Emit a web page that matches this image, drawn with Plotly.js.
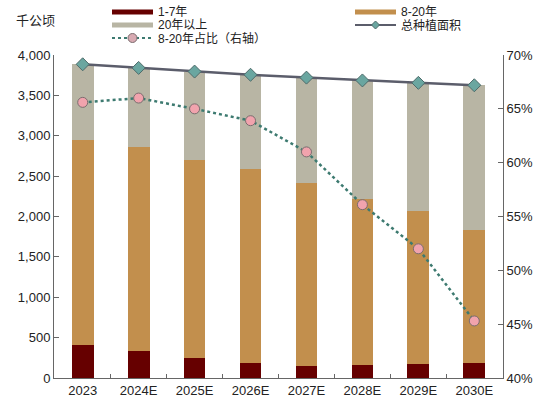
<!DOCTYPE html>
<html>
<head>
<meta charset="utf-8">
<script src="https://cdn.plot.ly/plotly-3.0.1.min.js"></script>
<style>
  html, body { margin: 0; padding: 0; background: #fff; }
  #chart { width: 550px; height: 410px; }
</style>
</head>
<body>
<div id="chart"></div>
<script>
const years = ['2023', '2024E', '2025E', '2026E', '2027E', '2028E', '2029E', '2030E'];
const age1to7 = [410, 330, 245, 190, 145, 155, 170, 190];
const age8to20 = [2540, 2525, 2460, 2395, 2270, 2065, 1895, 1640];
const age20plus = [935, 985, 1090, 1170, 1305, 1465, 1590, 1795];
const totalArea = [3885, 3840, 3795, 3755, 3720, 3685, 3655, 3625];
const share8to20 = [65.6, 66.0, 65.0, 63.9, 61.0, 56.1, 52.0, 45.3];

const font = 'Liberation Sans, Arial, "Noto Sans CJK SC", sans-serif';

const colors = {
  young: '#660000',
  mid: '#c28f4d',
  old: '#b8b5a4',
  total: '#5b5d6b',
  totalMarker: '#6aa6a0',
  share: '#3d7a70',
  shareMarker: '#f1a3ad',
};

const margin = { l: 54, r: 47, t: 55, b: 32 };
const W = 550, H = 410;
const plotW = W - margin.l - margin.r;
const plotH = H - margin.t - margin.b;
// pixel -> paper coords, for the hand drawn legend
const px = (x) => (x - margin.l) / plotW;
const py = (y) => (H - margin.b - y) / plotH;

const traces = [
  { name: '1-7年', x: years, y: age1to7, type: 'bar', marker: { color: colors.young } },
  { name: '8-20年', x: years, y: age8to20, type: 'bar', marker: { color: colors.mid } },
  { name: '20年以上', x: years, y: age20plus, type: 'bar', marker: { color: colors.old } },
  {
    name: '总种植面积', x: years, y: totalArea, type: 'scatter',
    mode: 'lines+markers',
    line: { color: colors.total, width: 2.5 },
    marker: { symbol: 'diamond', size: 10, color: colors.totalMarker, line: { color: '#4e6b6a', width: 1 } },
  },
  {
    name: '8-20年占比（右轴）', x: years, y: share8to20, type: 'scatter',
    mode: 'lines+markers', yaxis: 'y2',
    line: { color: colors.share, width: 2.5, dash: 'dot' },
    marker: { symbol: 'circle', size: 10, color: colors.shareMarker, line: { color: '#7b6d6f', width: 1 } },
  },
];

/* legend, drawn by hand: two columns */
const legendItems = [
  { text: '1-7年', kind: 'bar', color: colors.young, x: 112, y: 12 },
  { text: '8-20年', kind: 'bar', color: colors.mid, x: 355, y: 12 },
  { text: '20年以上', kind: 'bar', color: colors.old, x: 112, y: 25 },
  { text: '总种植面积', kind: 'total', x: 355, y: 25 },
  { text: '8-20年占比（右轴）', kind: 'share', x: 112, y: 38 },
];

const shapes = [];
const annotations = [
  {
    text: '千公顷', xref: 'paper', yref: 'paper',
    x: px(14), y: py(21), xanchor: 'left', yanchor: 'middle',
    showarrow: false, font: { family: font, size: 13, color: '#222' },
  },
];

legendItems.forEach((it) => {
  const x0 = it.x, x1 = it.x + 41, xm = it.x + 20.5;
  if (it.kind === 'bar') {
    shapes.push({
      type: 'rect', xref: 'paper', yref: 'paper',
      x0: px(x0), x1: px(x1), y0: py(it.y + 2.5), y1: py(it.y - 2.5),
      fillcolor: it.color, line: { width: 0 },
    });
  } else if (it.kind === 'total') {
    shapes.push({
      type: 'line', xref: 'paper', yref: 'paper',
      x0: px(x0), x1: px(x1), y0: py(it.y), y1: py(it.y),
      line: { color: colors.total, width: 2 },
    });
    shapes.push({
      type: 'path', xref: 'paper', yref: 'paper',
      path: `M ${px(xm - 4)} ${py(it.y)} L ${px(xm)} ${py(it.y - 4)} L ${px(xm + 4)} ${py(it.y)} L ${px(xm)} ${py(it.y + 4)} Z`,
      fillcolor: colors.totalMarker, line: { color: '#4e6b6a', width: 1 },
    });
  } else {
    shapes.push({
      type: 'line', xref: 'paper', yref: 'paper',
      x0: px(x0), x1: px(x1), y0: py(it.y), y1: py(it.y),
      line: { color: colors.share, width: 2, dash: 'dot' },
    });
    shapes.push({
      type: 'circle', xref: 'paper', yref: 'paper',
      x0: px(xm - 4.5), x1: px(xm + 4.5), y0: py(it.y + 4.5), y1: py(it.y - 4.5),
      fillcolor: '#d8aab2', line: { color: '#7b6d6f', width: 1 },
    });
  }
  annotations.push({
    text: it.text, xref: 'paper', yref: 'paper',
    x: px(x1 + 3), y: py(it.y), xanchor: 'left', yanchor: 'middle',
    showarrow: false, font: { family: font, size: 12, color: '#222' },
  });
});

const axisStyle = {
  showline: true, linecolor: '#666', linewidth: 1,
  ticks: 'inside', tickcolor: '#666',
  showgrid: false, zeroline: false,
  tickfont: { size: 13 },
};

const layout = {
  width: W,
  height: H,
  margin: margin,
  barmode: 'stack',
  bargap: 0.61,
  paper_bgcolor: '#fff',
  plot_bgcolor: '#fff',
  font: { family: font, size: 13, color: '#222' },
  showlegend: false,
  xaxis: Object.assign({}, axisStyle, {
    type: 'category', tickson: 'boundaries', ticklen: 4,
  }),
  yaxis: Object.assign({}, axisStyle, {
    range: [0, 4000], dtick: 500, tickformat: ',', ticklen: 5,
  }),
  yaxis2: Object.assign({}, axisStyle, {
    overlaying: 'y', side: 'right',
    range: [40, 70], dtick: 5, ticksuffix: '%', ticklen: 5,
  }),
  shapes: shapes,
  annotations: annotations,
};

Plotly.newPlot('chart', traces, layout, { displayModeBar: false, staticPlot: true });
</script>
</body>
</html>
